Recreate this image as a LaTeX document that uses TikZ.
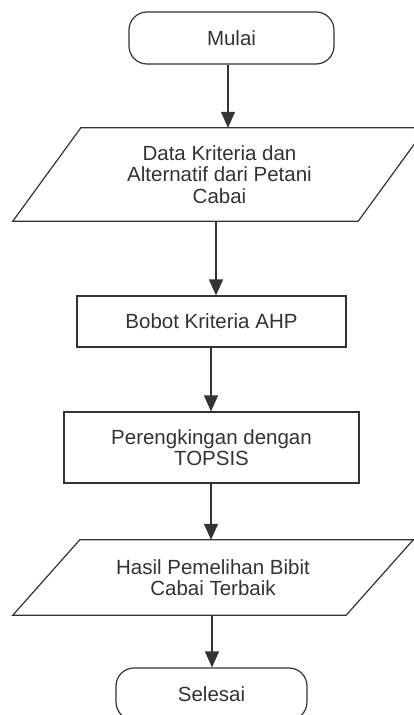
\documentclass[tikz,border=0pt]{standalone}
\usepackage{fontspec}
\setmainfont{Liberation Sans}
\usetikzlibrary{arrows.meta}
\definecolor{ink}{HTML}{333333}
\tikzset{
  every node/.style={font=\fontsize{20.5}{21.5}\selectfont, text=ink, align=center, inner sep=0pt},
  termbox/.style={draw=ink, line width=1.2pt, rounded corners=18pt},
  procbox/.style={draw=ink, line width=1.2pt},
  iobody/.style={draw=none},
  ioline/.style={draw=ink, line width=1.2pt, line join=miter},
  flow/.style={draw=ink, line width=1.2pt, -{Triangle[length=16pt,width=14pt]}}
}
\begin{document}
\begin{tikzpicture}[x=1pt,y=-1pt]
\useasboundingbox (0,0) rectangle (414,715);
\clip (0,0) rectangle (414,715);
% nodes
\node[termbox, minimum width=205pt, minimum height=52pt] (mulai) at (231.5,38) {Mulai};
\node[iobody, minimum width=345pt, minimum height=93pt] (p1) at (219.5,174.5) {Data Kriteria dan\\Alternatif dari Petani\\Cabai};
\draw[ioline] ([xshift=-34pt]p1.south west) -- ([xshift=-34pt]p1.south east) -- ([xshift=34pt]p1.north east) -- ([xshift=34pt]p1.north west) -- cycle;
\node[procbox, minimum width=269pt, minimum height=51pt] (bobot) at (211.5,321.5) {Bobot Kriteria AHP};
\node[procbox, minimum width=295pt, minimum height=71pt] (topsis) at (211.5,447.5) {Perengkingan dengan\\TOPSIS};
\node[iobody, minimum width=333pt, minimum height=75pt] (p2) at (213,577.5) {Hasil Pemelihan Bibit\\Cabai Terbaik};
\draw[ioline] ([xshift=-33.5pt]p2.south west) -- ([xshift=-33.5pt]p2.south east) -- ([xshift=33.5pt]p2.north east) -- ([xshift=33.5pt]p2.north west) -- cycle;
\node[termbox, minimum width=191pt, minimum height=52pt] (selesai) at (211.5,694) {Selesai};
% connectors
\coordinate (m1) at ([xshift=-3.5pt]mulai.south);
\draw[flow] (m1) -- (m1 |- p1.north);
\coordinate (q1) at ([xshift=-3.5pt]p1.south);
\draw[flow] (q1) -- (q1 |- bobot.north);
\coordinate (b1) at ([xshift=-0.5pt]bobot.south);
\draw[flow] (b1) -- (b1 |- topsis.north);
\coordinate (t1) at ([xshift=-0.5pt]topsis.south);
\draw[flow] (t1) -- (t1 |- p2.north);
\coordinate (h1) at ([xshift=-1pt]p2.south);
\draw[flow] (h1) -- (h1 |- selesai.north);
\end{tikzpicture}
\end{document}
